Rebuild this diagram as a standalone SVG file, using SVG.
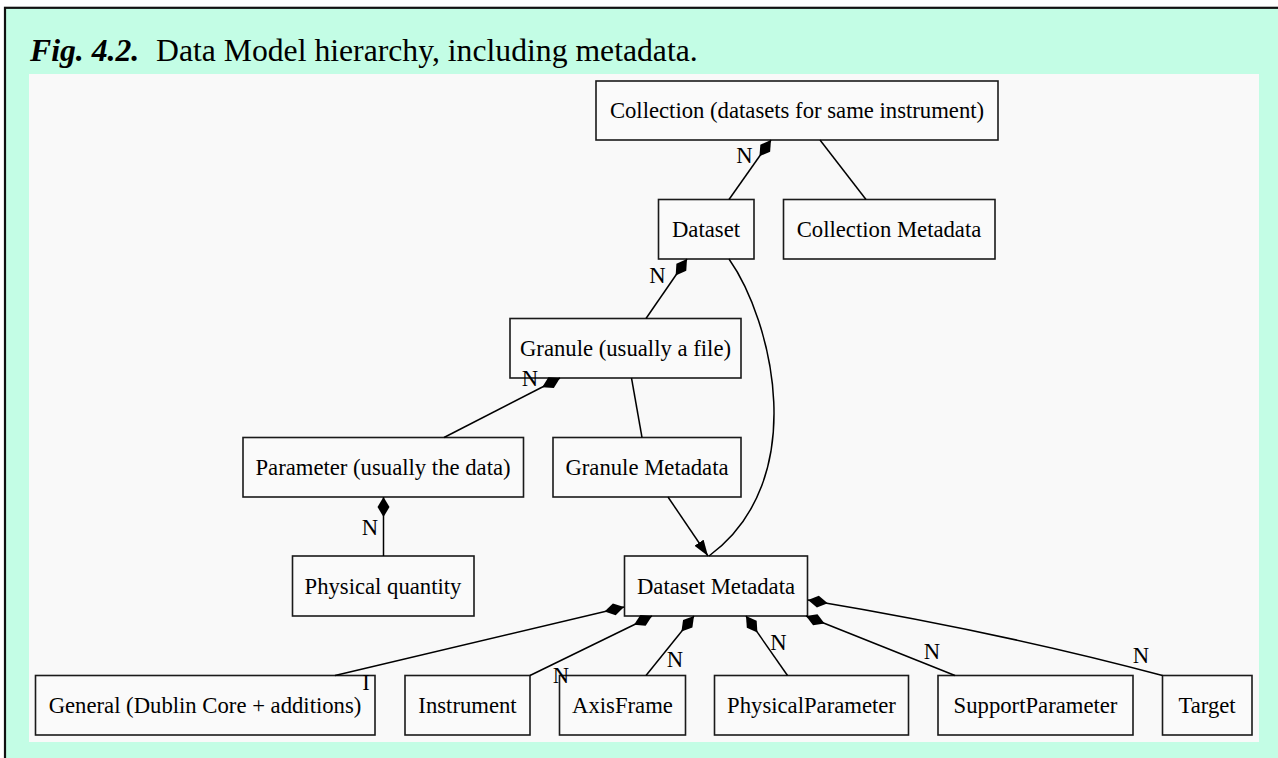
<svg xmlns="http://www.w3.org/2000/svg" width="1278" height="758" viewBox="0 0 1278 758">
<defs>
<style>
.frame{fill:#c3fde5;stroke:#111;stroke-width:2.2}
.panel{fill:#f9f9f9}
.node rect{fill:#fafafa;stroke:#1a1a1a;stroke-width:1.6}
.node text,.lbl{font-family:"Liberation Serif","Times New Roman",serif;font-size:22.7px;fill:#000}
.node text{text-anchor:middle}
.lbl{text-anchor:middle}
.title{font-family:"Liberation Serif","Times New Roman",serif;font-size:31.7px;fill:#000}
.edge{fill:none;stroke:#000;stroke-width:1.5}
</style>
<marker id="dia" markerUnits="userSpaceOnUse" markerWidth="22" markerHeight="14" viewBox="0 -7 22 14" refX="0" refY="0" orient="auto">
<path d="M0,0 L10,-6 L20,0 L10,6 Z" fill="#000"/>
</marker>
<marker id="arr" markerUnits="userSpaceOnUse" markerWidth="18" markerHeight="12" viewBox="0 -6 18 12" refX="16" refY="0" orient="auto">
<path d="M0,-5.5 L16,0 L0,5.5 Z" fill="#000"/>
</marker>
</defs>
<rect width="1278" height="758" fill="#fff"/>
<rect class="frame" x="5" y="7.8" width="1290" height="770"/>
<text class="title" x="30" y="61"><tspan font-weight="bold" font-style="italic">Fig. 4.2.</tspan></text>
<text class="title" x="156" y="61">Data Model hierarchy, including metadata.</text>
<rect class="panel" x="29" y="74" width="1230" height="668"/>

<g id="collection" class="node"><rect x="596" y="81" width="402" height="59"/><text x="797" y="118">Collection (datasets for same instrument)</text></g>
<g id="dataset" class="node"><rect x="658.5" y="199.5" width="95.5" height="59.5"/><text x="706" y="236.5">Dataset</text></g>
<g id="collection-metadata" class="node"><rect x="783.5" y="199.5" width="211.5" height="59.5"/><text x="889" y="236.5">Collection Metadata</text></g>
<g id="granule" class="node"><rect x="510" y="318.5" width="231" height="59.5"/><text x="625.5" y="356">Granule (usually a file)</text></g>
<g id="parameter" class="node"><rect x="243" y="437.5" width="280.5" height="59.5"/><text x="383" y="475">Parameter (usually the data)</text></g>
<g id="granule-metadata" class="node"><rect x="553" y="437.5" width="188" height="59.5"/><text x="647" y="475">Granule Metadata</text></g>
<g id="physical-quantity" class="node"><rect x="292.5" y="556" width="181.5" height="60"/><text x="383" y="594">Physical quantity</text></g>
<g id="dataset-metadata" class="node"><rect x="624.5" y="556" width="183" height="60"/><text x="716" y="594">Dataset Metadata</text></g>
<g id="general" class="node"><rect x="35.5" y="675.5" width="339.5" height="59.5"/><text x="205" y="713">General (Dublin Core + additions)</text></g>
<g id="instrument" class="node"><rect x="405" y="675.5" width="125" height="59.5"/><text x="467.5" y="713">Instrument</text></g>
<g id="axisframe" class="node"><rect x="559.5" y="675.5" width="126" height="59.5"/><text x="622.5" y="713">AxisFrame</text></g>
<g id="physicalparameter" class="node"><rect x="714.5" y="675.5" width="194" height="59.5"/><text x="811.5" y="713">PhysicalParameter</text></g>
<g id="supportparameter" class="node"><rect x="938" y="675.5" width="195" height="59.5"/><text x="1035.5" y="713">SupportParameter</text></g>
<g id="target" class="node"><rect x="1162.5" y="675.5" width="89.5" height="59.5"/><text x="1207" y="713">Target</text></g>

<g id="connectors">
<path class="edge" d="M771,140 L729,199.5" marker-start="url(#dia)"/>
<path class="edge" d="M820,140 L866,199.5"/>
<path class="edge" d="M687,259 L646,318.5" marker-start="url(#dia)"/>
<path class="edge" d="M729,259 C772,320 812,480 709,556"/>
<path class="edge" d="M560,378 L444,437.5" marker-start="url(#dia)"/>
<path class="edge" d="M631.5,378 L642,437.5"/>
<path class="edge" d="M383.5,497 L383.5,556" marker-start="url(#dia)"/>
<path class="edge" d="M668,497 L708,556" marker-end="url(#arr)"/>
<path class="edge" d="M624,607 L335,675.5" marker-start="url(#dia)"/>
<path class="edge" d="M652,616 L530,675.5" marker-start="url(#dia)"/>
<path class="edge" d="M694,616 L646,675.5" marker-start="url(#dia)"/>
<path class="edge" d="M746,616 L787.5,675.5" marker-start="url(#dia)"/>
<path class="edge" d="M806,616 L955,675.5" marker-start="url(#dia)"/>
<path class="edge" d="M808,600 Q1000,632 1162.5,675.5" marker-start="url(#dia)"/>
<text class="lbl" x="744.5" y="163">N</text>
<text class="lbl" x="657.5" y="283">N</text>
<text class="lbl" x="530" y="386">N</text>
<text class="lbl" x="370" y="535">N</text>
<text class="lbl" x="366" y="690">I</text>
<text class="lbl" x="561" y="683">N</text>
<text class="lbl" x="675" y="667">N</text>
<text class="lbl" x="778.5" y="650">N</text>
<text class="lbl" x="932" y="659">N</text>
<text class="lbl" x="1141" y="663">N</text>
</g>
</svg>
